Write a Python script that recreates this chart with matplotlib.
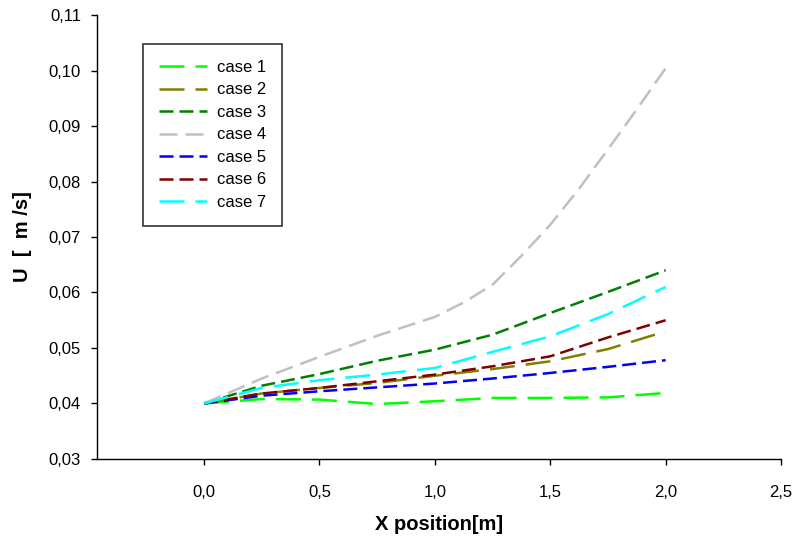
"""
Velocity U along X position, cases 1-7
"""

import numpy as np
import matplotlib.pyplot as plt
from matplotlib.ticker import FuncFormatter

plt.rcParams['font.family'] = ['Liberation Sans', 'DejaVu Sans']

# DATA
x_pos = [0.0, 0.25, 0.5, 0.75, 1.0, 1.25, 1.5, 1.75, 2.0]
case1 = [0.0400, 0.0408, 0.0407, 0.0399, 0.0404, 0.0410, 0.0410, 0.0411, 0.0419]
case2 = [0.0400, 0.0418, 0.0428, 0.0437, 0.0450, 0.0462, 0.0476, 0.0498, 0.0530]
case3 = [0.0400, 0.0432, 0.0453, 0.0477, 0.0497, 0.0524, 0.0563, 0.0601, 0.0640]
case5 = [0.0400, 0.0414, 0.0422, 0.0429, 0.0436, 0.0445, 0.0455, 0.0466, 0.0478]
case6 = [0.0400, 0.0418, 0.0428, 0.0440, 0.0452, 0.0467, 0.0485, 0.0519, 0.0550]
case7 = [0.0400, 0.0428, 0.0442, 0.0452, 0.0464, 0.0493, 0.0521, 0.0561, 0.0610]

# case 4 read at a finer step where it bends
x_pos4 = [0.0, 0.25, 0.5, 0.75, 1.0, 1.125, 1.25, 1.375, 1.5, 1.625, 1.75, 1.875, 2.0]
case4 = [0.0400, 0.0445, 0.0484, 0.0522, 0.0556, 0.0582, 0.0614, 0.0666, 0.0722,
         0.0787, 0.0858, 0.0930, 0.1004]

labels = ['case 1', 'case 2', 'case 3', 'case 4', 'case 5', 'case 6', 'case 7']
colors = ['#00ff00', '#808000', '#008000', '#c0c0c0', '#0000ff', '#800000', '#00ffff']
dashes = [(10, 4.4), (10, 4.4), (5.6, 2.4), (7.2, 3.2), (5.6, 2.4), (5.6, 2.4), (10, 4.4)]

# PLOT
fig = plt.figure(figsize=(7.93, 5.37), dpi=100)
ax = fig.add_axes([0.1223, 0.1453, 0.8626, 0.8267])

xs = [x_pos, x_pos, x_pos, x_pos4, x_pos, x_pos, x_pos]
series = [case1, case2, case3, case4, case5, case6, case7]
for x, y, lab, c, d in zip(xs, series, labels, colors, dashes):
    ax.plot(x, y, color=c, lw=1.8, dashes=d, label=lab)

ax.set_xlim(-0.464, 2.5)
ax.set_ylim(0.03, 0.11)
ax.set_xticks([0.0, 0.5, 1.0, 1.5, 2.0, 2.5])
ax.set_yticks(np.arange(0.03, 0.1101, 0.01))

ax.xaxis.set_major_formatter(FuncFormatter(lambda v, p: f'{v:.1f}'.replace('.', ',')))
ax.yaxis.set_major_formatter(FuncFormatter(lambda v, p: f'{v:.2f}'.replace('.', ',')))

ax.spines['top'].set_visible(False)
ax.spines['right'].set_visible(False)
for s in ['left', 'bottom']:
    ax.spines[s].set_linewidth(1.0)
ax.tick_params(axis='both', direction='out', length=4.5, width=1, labelsize=12)
ax.tick_params(axis='x', pad=14)
ax.tick_params(axis='y', pad=7)

ax.set_xlabel('X position[m]', fontsize=14.5, fontweight='bold', labelpad=11)
ax.set_ylabel('U  [  m /s]', fontsize=14.5, fontweight='bold', labelpad=12)

leg = ax.legend(loc='upper left', bbox_to_anchor=(0.0673, 0.9347), borderaxespad=0,
                fontsize=12, frameon=True, fancybox=False, edgecolor='black',
                handlelength=2.9, labelspacing=0.45, borderpad=0.95, handletextpad=0.6)
leg.get_frame().set_linewidth(1.2)

plt.savefig('out.png', dpi=100)
